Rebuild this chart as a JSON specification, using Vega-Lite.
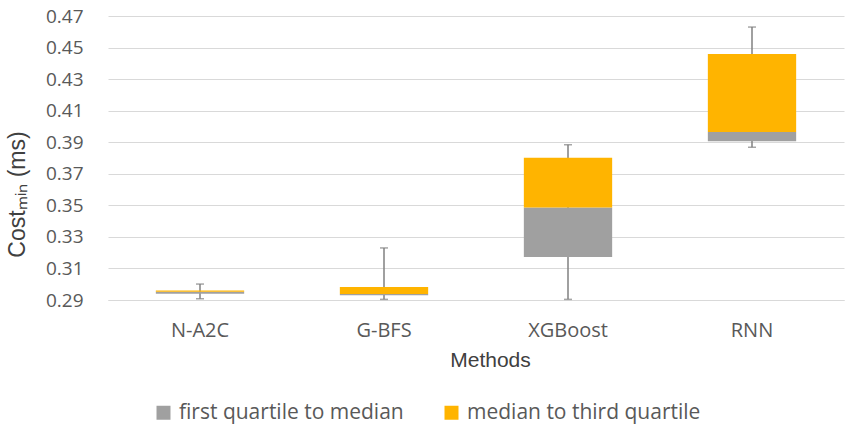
{
  "$schema": "https://vega.github.io/schema/vega-lite/v6.json",
  "width": 736,
  "height": 284,
  "autosize": "none",
  "padding": {"left": 108, "top": 16, "right": 2, "bottom": 125},
  "background": "white",
  "config": {
    "view": {"stroke": null},
    "font": "Open Sans",
    "axisY": {
      "values": [0.29, 0.31, 0.33, 0.35, 0.37, 0.39, 0.41, 0.43, 0.45, 0.47],
      "format": ".2f", "labelFont": "Open Sans", "labelFontSize": 19, "labelColor": "#595959",
      "labelOverlap": false, "labelBound": false,
      "ticks": false, "domain": false, "grid": true, "gridColor": "#D9D9D9", "gridWidth": 1,
      "labelPadding": 25,
      "titleFont": "Liberation Sans", "titleFontSize": 23, "titleFontWeight": "normal",
      "titleColor": "#404040", "titleX": -79, "titleY": 178
    }
  },
  "datasets": {
    "stats": [
      {"method": "N-A2C", "min": 0.2908, "q1": 0.294, "median": 0.2953, "q3": 0.2961, "max": 0.3001},
      {"method": "G-BFS", "min": 0.2904, "q1": 0.293, "median": 0.2938, "q3": 0.2982, "max": 0.323},
      {"method": "XGBoost", "min": 0.2904, "q1": 0.3172, "median": 0.3487, "q3": 0.3802, "max": 0.3884},
      {"method": "RNN", "min": 0.3868, "q1": 0.3906, "median": 0.3965, "q3": 0.4459, "max": 0.463}
    ],
    "boxes": [
      {"method": "N-A2C", "part": "first quartile to median", "lo": 0.294, "hi": 0.2953},
      {"method": "N-A2C", "part": "median to third quartile", "lo": 0.2953, "hi": 0.2961},
      {"method": "G-BFS", "part": "first quartile to median", "lo": 0.293, "hi": 0.2938},
      {"method": "G-BFS", "part": "median to third quartile", "lo": 0.2938, "hi": 0.2982},
      {"method": "XGBoost", "part": "first quartile to median", "lo": 0.3172, "hi": 0.3487},
      {"method": "XGBoost", "part": "median to third quartile", "lo": 0.3487, "hi": 0.3802},
      {"method": "RNN", "part": "first quartile to median", "lo": 0.3906, "hi": 0.3965},
      {"method": "RNN", "part": "median to third quartile", "lo": 0.3965, "hi": 0.4459}
    ]
  },
  "layer": [
    {
      "data": {"name": "stats"},
      "mark": {"type": "rule", "color": "#808080", "strokeWidth": 1.5},
      "encoding": {
        "x": {
          "field": "method", "type": "nominal",
          "sort": ["N-A2C", "G-BFS", "XGBoost", "RNN"],
          "scale": {"paddingInner": 0.52, "paddingOuter": 0.26},
          "axis": {
            "labelAngle": 0, "labelFont": "Open Sans", "labelFontSize": 20, "labelColor": "#595959",
            "ticks": false, "domainColor": "#D9D9D9", "domainWidth": 1, "labelPadding": 20,
            "title": "Methods", "titleFont": "Liberation Sans", "titleFontSize": 21, "titleFontWeight": "normal",
            "titleColor": "#404040", "titlePadding": 9, "titleX": 382
          }
        },
        "y": {
          "field": "min", "type": "quantitative",
          "scale": {"domain": [0.29, 0.47], "nice": false, "zero": false},
          "axis": {"title": "Costₘᵢₙ (ms)", "values": [0.29, 0.31, 0.33, 0.35, 0.37, 0.39, 0.41, 0.43, 0.45, 0.47]}
        },
        "y2": {"field": "max"}
      }
    },
    {
      "data": {"name": "stats"},
      "mark": {"type": "tick", "color": "#808080", "thickness": 1.5, "size": 8},
      "encoding": {
        "x": {"field": "method", "type": "nominal", "sort": ["N-A2C", "G-BFS", "XGBoost", "RNN"]},
        "y": {"field": "min", "type": "quantitative", "axis": {"title": "Costₘᵢₙ (ms)", "values": [0.29, 0.31, 0.33, 0.35, 0.37, 0.39, 0.41, 0.43, 0.45, 0.47]}}
      }
    },
    {
      "data": {"name": "stats"},
      "mark": {"type": "tick", "color": "#808080", "thickness": 1.5, "size": 8},
      "encoding": {
        "x": {"field": "method", "type": "nominal", "sort": ["N-A2C", "G-BFS", "XGBoost", "RNN"]},
        "y": {"field": "max", "type": "quantitative", "axis": {"title": "Costₘᵢₙ (ms)", "values": [0.29, 0.31, 0.33, 0.35, 0.37, 0.39, 0.41, 0.43, 0.45, 0.47]}}
      }
    },
    {
      "data": {"name": "boxes"},
      "mark": {"type": "bar"},
      "encoding": {
        "x": {"field": "method", "type": "nominal", "sort": ["N-A2C", "G-BFS", "XGBoost", "RNN"]},
        "y": {"field": "lo", "type": "quantitative", "axis": {"title": "Costₘᵢₙ (ms)", "values": [0.29, 0.31, 0.33, 0.35, 0.37, 0.39, 0.41, 0.43, 0.45, 0.47]}},
        "y2": {"field": "hi"},
        "color": {
          "field": "part", "type": "nominal",
          "scale": {"domain": ["first quartile to median", "median to third quartile"], "range": ["#A0A0A0", "#FFB400"]},
          "legend": {
            "title": null, "orient": "none", "direction": "horizontal", "legendX": 45, "legendY": 386,
            "symbolType": "square", "symbolSize": 196, "symbolStrokeWidth": 0, "symbolOpacity": 1,
            "labelFont": "Open Sans", "labelFontSize": 21, "labelColor": "#595959", "labelOffset": 5,
            "columnPadding": 37, "labelLimit": 400
          }
        }
      }
    }
  ]
}
